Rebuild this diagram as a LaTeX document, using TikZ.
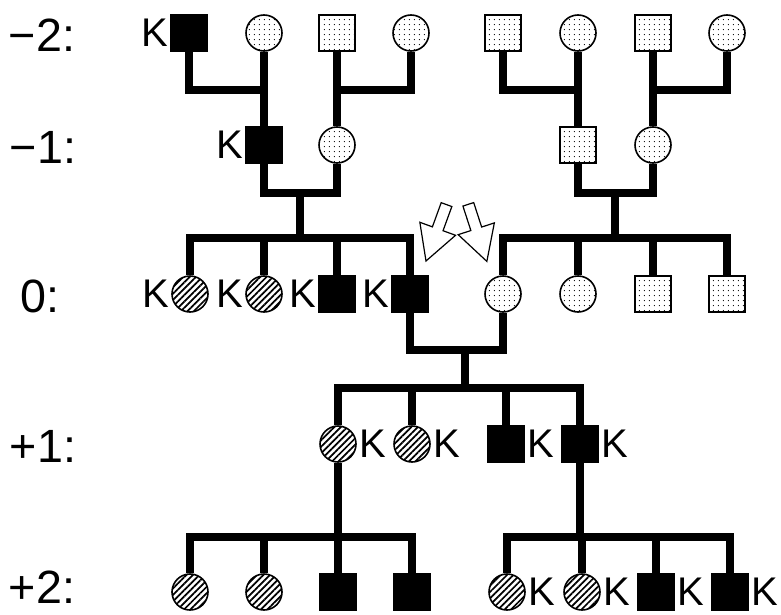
\documentclass[tikz,border=0pt]{standalone}
\usepackage{fontspec}
\setmainfont{Liberation Sans}
\usetikzlibrary{patterns.meta,shapes.arrows}

\tikzset{
  ind/.style={draw, line width=1.2pt, minimum size=27pt, inner sep=0pt},
  aff/.style={ind, rectangle, fill=black},
  hat/.style={ind, circle, pattern={Lines[angle=45,distance=3.4pt,line width=1.3pt]}},
  dsq/.style={ind, rectangle, pattern={Dots[distance=4pt,radius=0.5pt]}},
  dci/.style={ind, circle, pattern={Dots[distance=4pt,radius=0.5pt]}},
  pl/.style={line width=6.3pt},
  kl/.style={font=\fontsize{30}{34}\selectfont, inner sep=1.5pt},
  gen/.style={font=\fontsize{35}{40}\selectfont, inner sep=0pt},
  bigarr/.style={single arrow, draw, line width=0.9pt, fill=white, minimum height=45pt,
    inner sep=3.8pt, single arrow head extend=10pt, single arrow tip angle=58,
    single arrow head indent=0pt}
}

\begin{document}
\begin{tikzpicture}[x=0.75pt,y=-0.75pt]
\useasboundingbox (0,0) rectangle (781,614);

\node[gen] (gA) at (42,35) {−2:};
\node[gen] (gB) at (43,147) {−1:};
\node[gen] (gC) at (40,296) {0:};
\node[gen] (gD) at (43,446) {+1:};
\node[gen] (gE) at (42,587) {+2:};

% generation -2
\node[aff, label={[kl]left:K}] (A1) at (189,33) {};
\node[dci] (A2) at (264,33) {};
\node[dsq] (A3) at (337,33) {};
\node[dci] (A4) at (411,33) {};
\node[dsq] (A5) at (503,33) {};
\node[dci] (A6) at (578,33) {};
\node[dsq] (A7) at (653,33) {};
\node[dci] (A8) at (727,33) {};

% generation -1
\node[aff, label={[kl]left:K}] (B1) at (264,145) {};
\node[dci] (B2) at (337,145) {};
\node[dsq] (B3) at (578,145) {};
\node[dci] (B4) at (653,145) {};

% generation 0
\node[hat, label={[kl]left:K}] (C1) at (190,294) {};
\node[hat, label={[kl]left:K}] (C2) at (264,294) {};
\node[aff, label={[kl]left:K}] (C3) at (337,294) {};
\node[aff, label={[kl]left:K}] (C4) at (410,294) {};
\node[dci] (C5) at (503,294) {};
\node[dci] (C6) at (578,294) {};
\node[dsq] (C7) at (653,294) {};
\node[dsq] (C8) at (727,294) {};

% generation +1
\node[hat, label={[kl]right:K}] (D1) at (338,444) {};
\node[hat, label={[kl]right:K}] (D2) at (412,444) {};
\node[aff, label={[kl]right:K}] (D3) at (506,444) {};
\node[aff, label={[kl]right:K}] (D4) at (580,444) {};

% generation +2
\node[hat] (E1) at (190,592) {};
\node[hat] (E2) at (264,592) {};
\node[aff] (E3) at (338,592) {};
\node[aff] (E4) at (412,592) {};
\node[hat, label={[kl]right:K}] (E5) at (507,592) {};
\node[hat, label={[kl]right:K}] (E6) at (582,592) {};
\node[aff, label={[kl]right:K}] (E7) at (656,592) {};
\node[aff, label={[kl]right:K}] (E8) at (730,592) {};

\coordinate (mat1) at (264,90);
\coordinate (mat2) at (337,90);
\coordinate (mat3) at (578,90);
\coordinate (mat4) at (653,90);
\coordinate (mat5) at (300,193);
\coordinate (mat6) at (615,193);
\coordinate (mat7) at (465,350);
\coordinate (sib1) at (300,238);
\coordinate (sib2) at (615,238);
\coordinate (sib3) at (465,388);
\coordinate (sib4) at (338,537);
\coordinate (sib5) at (580,537);

\draw[pl] (A1.south) |- (mat1);
\draw[pl] (A2.south) -- (B1.north);
\draw[pl] (A3.south) -- (B2.north);
\draw[pl] (A4.south) |- (mat2);
\draw[pl] (A5.south) |- (mat3);
\draw[pl] (A6.south) -- (B3.north);
\draw[pl] (A7.south) -- (B4.north);
\draw[pl] (A8.south) |- (mat4);

\draw[pl] (B1.south) |- (mat5) -| (B2.south);
\draw[pl] (mat5) -- (sib1);
\draw[pl] (C1.north) |- (sib1) -| (C4.north);
\draw[pl] (C2.north) -- (C2 |- sib1);
\draw[pl] (C3.north) -- (C3 |- sib1);

\draw[pl] (B3.south) |- (mat6) -| (B4.south);
\draw[pl] (mat6) -- (sib2);
\draw[pl] (C5.north) |- (sib2) -| (C8.north);
\draw[pl] (C6.north) -- (C6 |- sib2);
\draw[pl] (C7.north) -- (C7 |- sib2);

\draw[pl] (C4.south) |- (mat7) -| (C5.south);
\draw[pl] (mat7) -- (sib3);
\draw[pl] (D1.north) |- (sib3) -| (D4.north);
\draw[pl] (D2.north) -- (D2 |- sib3);
\draw[pl] (D3.north) -- (D3 |- sib3);

\draw[pl] (D1.south) -- (sib4);
\draw[pl] (E1.north) |- (sib4) -| (E4.north);
\draw[pl] (E2.north) -- (E2 |- sib4);
\draw[pl] (E3.north) -- (E3 |- sib4);

\draw[pl] (D4.south) -- (sib5);
\draw[pl] (E5.north) |- (sib5) -| (E8.north);
\draw[pl] (E6.north) -- (E6 |- sib5);
\draw[pl] (E7.north) -- (E7 |- sib5);

\node[bigarr, rotate=-110] (arrL) at (438,228) {};
\node[bigarr, rotate=-72] (arrR) at (476,228) {};
\end{tikzpicture}
\end{document}
